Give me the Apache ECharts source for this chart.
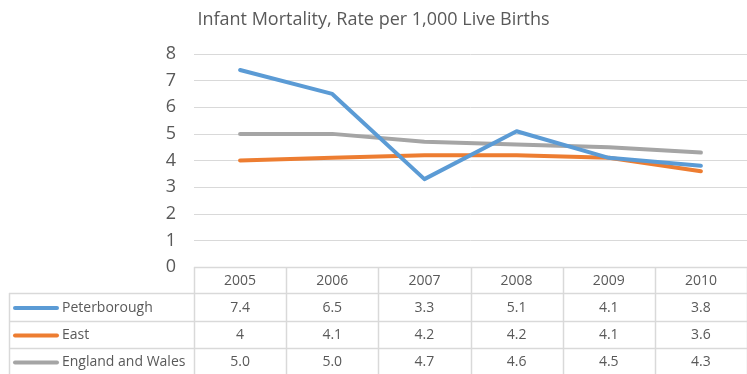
<!DOCTYPE html>
<html>
<head>
<meta charset="utf-8">
<script src="https://cdn.jsdelivr.net/npm/echarts@6/dist/echarts.min.js"></script>
<style>
  html, body { margin: 0; padding: 0; background: #fff; }
  #chart { width: 747px; height: 374px; }
</style>
</head>
<body>
<div id="chart"></div>
<script>
// Infant mortality, rate per 1,000 live births
const years = ['2005', '2006', '2007', '2008', '2009', '2010'];
const peterborough = [7.4, 6.5, 3.3, 5.1, 4.1, 3.8];
const east = [4, 4.1, 4.2, 4.2, 4.1, 3.6];
const englandWales = [5.0, 5.0, 4.7, 4.6, 4.5, 4.3];
const seriesNames = ['Peterborough', 'East', 'England and Wales'];
const seriesColors = ['#5B9BD5', '#ED7D31', '#A5A5A5'];
// decimals shown in the data table (null = general number format)
const tableDecimals = [1, null, 1];
const yTicks = [0, 1, 2, 3, 4, 5, 6, 7, 8];

const FONT = '"Open Sans", Lato, sans-serif';
const TEXT = '#595959';
const RULE = '#D9D9D9';

const seriesData = [peterborough, east, englandWales];

const chart = echarts.init(document.getElementById('chart'), null, { renderer: 'canvas' });

const option = {
  animation: false,
  backgroundColor: '#fff',
  textStyle: { fontFamily: FONT },
  title: {
    text: 'Infant Mortality, Rate per 1,000 Live Births',
    left: 'center',
    top: 6,
    textStyle: { fontFamily: FONT, fontSize: 18, fontWeight: 'normal', color: TEXT }
  },
  grid: { left: 194, top: 54, width: 562, height: 213, containLabel: false },
  xAxis: {
    type: 'category',
    data: years,
    boundaryGap: true,
    axisLine: { show: false },
    axisTick: { show: false },
    axisLabel: { show: false },
    splitLine: { show: false }
  },
  yAxis: {
    type: 'value',
    min: yTicks[0],
    max: yTicks[yTicks.length - 1],
    interval: 1,
    axisLine: { show: false },
    axisTick: { show: false },
    axisLabel: { fontFamily: FONT, fontSize: 18, color: TEXT, margin: 18 },
    splitLine: { lineStyle: { color: RULE, width: 1 } }
  },
  series: seriesData.map((d, i) => ({
    name: seriesNames[i],
    type: 'line',
    data: d,
    symbol: 'none',
    lineStyle: { color: seriesColors[i], width: 4, cap: 'round', join: 'round' },
    itemStyle: { color: seriesColors[i] },
    z: 10 - i
  }))
};

chart.setOption(option);

// Data table under the plot, aligned with the category bands
function buildTable() {
  const cx = years.map((_, i) => chart.convertToPixel({ xAxisIndex: 0 }, i));
  const band = cx.length > 1 ? cx[1] - cx[0] : 90;
  const x0 = cx[0] - band / 2;
  const xEnd = cx[cx.length - 1] + band / 2;
  const yTop = chart.convertToPixel({ yAxisIndex: 0 }, 0);
  const tableLeft = 9;
  const rows = [yTop, yTop + 26, yTop + 54, yTop + 81, yTop + 108];
  const g = [];
  const line = (x1, y1, x2, y2) => g.push({
    type: 'line', silent: true,
    shape: { x1, y1, x2, y2 },
    style: { stroke: RULE, lineWidth: 1.5 }
  });
  // horizontal rules
  line(x0, Math.round(rows[0]) + 0.5, xEnd, Math.round(rows[0]) + 0.5);
  for (let r = 1; r < rows.length; r++) {
    line(tableLeft, Math.round(rows[r]) + 0.5, xEnd, Math.round(rows[r]) + 0.5);
  }
  // vertical rules
  for (let c = 0; c <= years.length; c++) {
    const x = Math.round(x0 + c * band) + 0.5;
    line(x, rows[0], x, rows[4]);
  }
  line(tableLeft + 0.5, rows[1], tableLeft + 0.5, rows[4]);

  const cell = (text, x, y, align) => g.push({
    type: 'text', silent: true,
    style: {
      text, x, y, align: align || 'center', verticalAlign: 'middle',
      fill: TEXT, font: '14px ' + FONT
    }
  });
  // header row
  years.forEach((yr, i) => cell(yr, cx[i], (rows[0] + rows[1]) / 2 + 1));
  // series rows
  seriesData.forEach((d, s) => {
    const yc = (rows[s + 1] + rows[s + 2]) / 2 + 1;
    g.push({
      type: 'line', silent: true,
      shape: { x1: 15, y1: yc, x2: 57, y2: yc },
      style: { stroke: seriesColors[s], lineWidth: 4, lineCap: 'round' }
    });
    cell(seriesNames[s], 62, yc, 'left');
    d.forEach((v, i) => {
      const txt = tableDecimals[s] == null ? String(v) : v.toFixed(tableDecimals[s]);
      cell(txt, cx[i], yc);
    });
  });
  chart.setOption({ graphic: { elements: g } });
}
buildTable();
</script>
</body>
</html>
